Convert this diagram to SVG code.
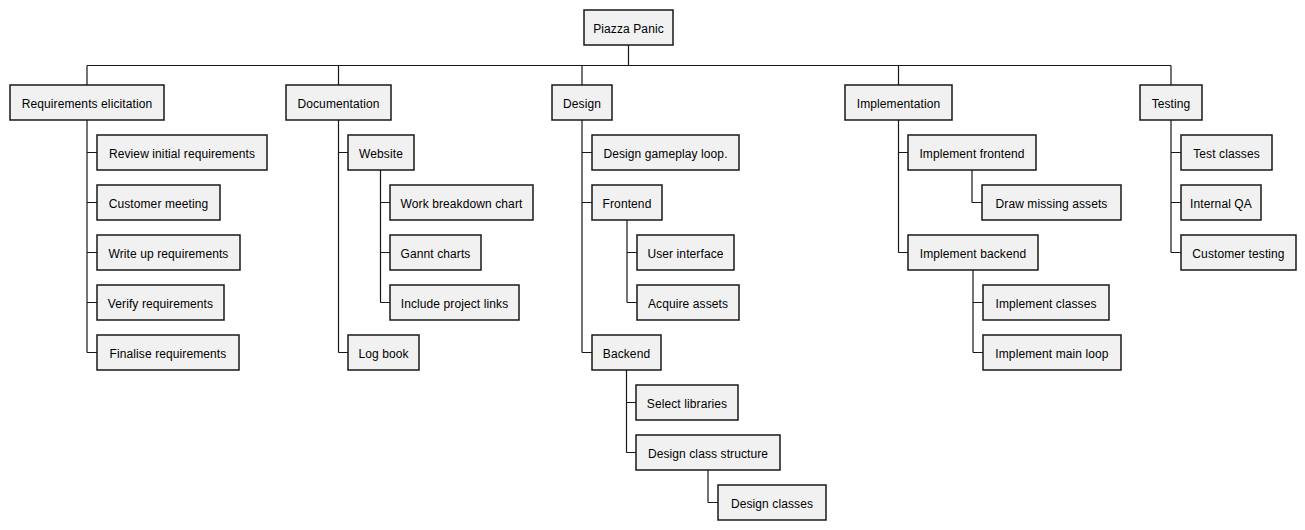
<svg xmlns="http://www.w3.org/2000/svg" width="1305" height="530" viewBox="0 0 1305 530">
<style>
.n rect{fill:#F1F1F1;stroke:#181818;stroke-width:1.5}
.n text{font-family:"Liberation Sans",Arial,sans-serif;font-size:12px;fill:#000;text-anchor:middle;letter-spacing:0.1px}
#connectors path{fill:none;stroke:#181818;stroke-width:1.2}
</style>
<rect width="1305" height="530" fill="#FFFFFF"/>
<g id="connectors">
<path d="M628.5 45V65.5M87 65.5H1171M87 65.5V85M338.5 65.5V85M582 65.5V85M898.5 65.5V85M1171 65.5V85"/>
<path d="M87 120V352.5M87 152.5H97M87 202.5H97M87 252.5H97M87 302.5H97M87 352.5H97"/>
<path d="M338.5 120V352.5M338.5 152.5H348M338.5 352.5H348M380.5 170V302.5M380.5 202.5H390M380.5 252.5H390M380.5 302.5H390"/>
<path d="M582 120V352.5M582 152.5H592M582 202.5H592M582 352.5H592M627 220V302.5M627 252.5H637M627 302.5H637M626.5 370V452.5M626.5 402.5H636M626.5 452.5H636M708 470V502.5M708 502.5H718"/>
<path d="M898.5 120V252.5M898.5 152.5H908M898.5 252.5H908M972 170V202.5M972 202.5H982M973 270V352.5M973 302.5H983M973 352.5H983"/>
<path d="M1171 120V252.5M1171 152.5H1181M1171 202.5H1181M1171 252.5H1181"/>
</g>
<g id="root" class="n"><rect x="584" y="10" width="89" height="35"/><text x="628.5" y="33">Piazza Panic</text></g>
<g id="req" class="n"><rect x="10" y="85" width="154" height="35"/><text x="87" y="108">Requirements elicitation</text></g>
<g id="doc" class="n"><rect x="286" y="85" width="105" height="35"/><text x="338.5" y="108">Documentation</text></g>
<g id="design" class="n"><rect x="552" y="85" width="60" height="35"/><text x="582" y="108">Design</text></g>
<g id="impl" class="n"><rect x="845" y="85" width="107" height="35"/><text x="898.5" y="108">Implementation</text></g>
<g id="testing" class="n"><rect x="1140" y="85" width="62" height="35"/><text x="1171" y="108">Testing</text></g>

<g id="review" class="n"><rect x="97" y="135" width="170" height="35"/><text x="182" y="158">Review initial requirements</text></g>
<g id="customer" class="n"><rect x="97" y="185" width="123" height="35"/><text x="158.5" y="208">Customer meeting</text></g>
<g id="writeup" class="n"><rect x="97" y="235" width="143" height="35"/><text x="168.5" y="258">Write up requirements</text></g>
<g id="verify" class="n"><rect x="97" y="285" width="127" height="35"/><text x="160.5" y="308">Verify requirements</text></g>
<g id="finalise" class="n"><rect x="97" y="335" width="142" height="35"/><text x="168" y="358">Finalise requirements</text></g>

<g id="website" class="n"><rect x="348" y="135" width="66" height="35"/><text x="381" y="158">Website</text></g>
<g id="wbc" class="n"><rect x="390" y="185" width="143" height="35"/><text x="461.5" y="208">Work breakdown chart</text></g>
<g id="gannt" class="n"><rect x="390" y="235" width="91" height="35"/><text x="435.5" y="258">Gannt charts</text></g>
<g id="links" class="n"><rect x="390" y="285" width="129" height="35"/><text x="454.5" y="308">Include project links</text></g>
<g id="logbook" class="n"><rect x="348" y="335" width="71" height="35"/><text x="383.5" y="358">Log book</text></g>

<g id="gameplay" class="n"><rect x="592" y="135" width="147" height="35"/><text x="665.5" y="158">Design gameplay loop.</text></g>
<g id="frontend" class="n"><rect x="592" y="185" width="70" height="35"/><text x="627" y="208">Frontend</text></g>
<g id="ui" class="n"><rect x="637" y="235" width="97" height="35"/><text x="685.5" y="258">User interface</text></g>
<g id="acquire" class="n"><rect x="637" y="285" width="102" height="35"/><text x="688" y="308">Acquire assets</text></g>
<g id="backend" class="n"><rect x="592" y="335" width="69" height="35"/><text x="626.5" y="358">Backend</text></g>
<g id="select" class="n"><rect x="636" y="385" width="102" height="35"/><text x="687" y="408">Select libraries</text></g>
<g id="dcs" class="n"><rect x="636" y="435" width="144" height="35"/><text x="708" y="458">Design class structure</text></g>
<g id="dc" class="n"><rect x="718" y="485" width="108" height="35"/><text x="772" y="508">Design classes</text></g>

<g id="ifront" class="n"><rect x="908" y="135" width="128" height="35"/><text x="972" y="158">Implement frontend</text></g>
<g id="dma" class="n"><rect x="982" y="185" width="139" height="35"/><text x="1051.5" y="208">Draw missing assets</text></g>
<g id="iback" class="n"><rect x="908" y="235" width="130" height="35"/><text x="973" y="258">Implement backend</text></g>
<g id="iclasses" class="n"><rect x="983" y="285" width="126" height="35"/><text x="1046" y="308">Implement classes</text></g>
<g id="imain" class="n"><rect x="983" y="335" width="138" height="35"/><text x="1052" y="358">Implement main loop</text></g>

<g id="tclasses" class="n"><rect x="1181" y="135" width="91" height="35"/><text x="1226.5" y="158">Test classes</text></g>
<g id="qa" class="n"><rect x="1181" y="185" width="80" height="35"/><text x="1221" y="208">Internal QA</text></g>
<g id="ctest" class="n"><rect x="1181" y="235" width="115" height="35"/><text x="1238.5" y="258">Customer testing</text></g>
</svg>
